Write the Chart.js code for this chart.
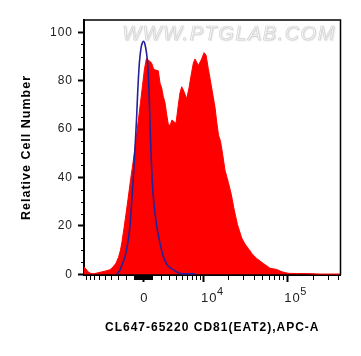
<!DOCTYPE html>
<html><head><meta charset="utf-8">
<script src="https://cdn.jsdelivr.net/npm/chart.js@4.4.1/dist/chart.umd.min.js"></script>
<style>html,body{margin:0;padding:0;background:#fff;}#wrap{width:361px;height:356px;}</style>
</head><body><div id="wrap"><canvas id="c" width="361" height="356"></canvas></div>
<script>
// Display channels (0..256 across the plot, biexponential display)
const redChannels = [0,2,4,7,10,14,18,22,26,29,32,34.5,36.5,38,40,42,44,46.7,49,51.5,54.3,56.5,58.5,60.5,62.5,64.5,67.5,69.5,71.5,74.3,76,77.7,79.3,81,82.7,84.3,86,88,90,92,94.3,96,97.7,99.3,102.7,105,107,109.3,111,114.3,117.7,120,122,124.3,127.7,131,132.7,134.5,136.5,138.5,141,144.3,147.3,150,153.5,157.7,161,164.3,168,172.7,179.3,186,192.7,198,204,212.7,222.7,236,256.5];
const redCounts   = [3.0,2.2,1.0,0.3,0.2,0.6,1.0,1.4,1.9,3.0,4.6,7,10,13.5,19,25,31,39.5,46,54,63.5,71,78,85,89.2,88.5,87.4,85,84.4,84.1,79,77,73.4,71,66,62,61.5,63.8,63,62.4,70,75,77.5,76.2,72.5,77,82,87.2,89,86.3,89,91.6,90.6,85,77,69,63,57.5,55,50,43,38,33,27,20.5,15,12.5,10.7,8.5,6.5,4.5,2.5,2,1.0,0.4,0.3,0.3,0.1,0.1];
const blueChannels = [32.7,34.5,36,38.5,41,44.3,46,47.7,49.3,51,52.5,53.5,55.3,57,58.3,59.5,61,62.5,64,65.3,66.2,67.2,68.3,70,72.7,75.3,79.3,83,89.3,94,97.7,111];
const blueCounts   = [0,0.8,1.8,4.5,7.3,14.2,20,30,40,52,63.8,73.5,87,93.5,95.6,96.3,95,91.5,85,72,60,48,38,29,20,14.2,7.3,4,1.8,0.7,0.2,0.2];

const xTickValues = [0, 10000, 100000];
const xTickLabels = ['0', '10', '10'];
const xTickExponents = ['', '4', '5'];
const yTickValues = [0, 20, 40, 60, 80, 100];
const yMinorValues = [5,10,15,25,30,35,45,50,55,65,70,75,85,90,95];
const xMinorMultipliers = [1,2,3,4,5,6,7,8,9];
const xMinorDecades = [100, 1000];          // mirrored negative and positive
const xMinorPosDecades = [10000, 100000];    // positive only
const xTitle = 'CL647-65220 CD81(EAT2),APC-A';
const yTitle = 'Relative Cell Number';
const watermark = 'WWW.PTGLAB.COM';

const CH_ZERO = 59.3, CH_PER_DECADE = 84.76, COFACTOR = 4000;
function toChannel(v){ return CH_ZERO + CH_PER_DECADE * Math.asinh(v / COFACTOR) / Math.LN10; }

const xMinorValues = [];
xMinorDecades.forEach(d => xMinorMultipliers.forEach(m => { xMinorValues.push(m*d); xMinorValues.push(-m*d); }));
xMinorPosDecades.forEach(d => xMinorMultipliers.forEach(m => { if (m > 1) xMinorValues.push(m*d); }));

const FONT = "'Liberation Sans', Arial, Helvetica, sans-serif";

const decor = {
  id: 'decor',
  beforeDraw(chart){ chart.ctx.letterSpacing = '1px'; },
  beforeDatasetsDraw(chart){
    const ctx = chart.ctx;
    ctx.save();
    ctx.letterSpacing = '1.5px';
    ctx.font = "italic 20px " + FONT;
    ctx.textAlign = 'center'; ctx.textBaseline = 'middle';
    ctx.shadowColor = 'rgba(0,0,0,0.15)'; ctx.shadowBlur = 1.5; ctx.shadowOffsetX = 1; ctx.shadowOffsetY = 1;
    ctx.fillStyle = '#f7f7f7';
    ctx.fillText(watermark, 229, 34);
    ctx.shadowColor = 'transparent';
    ctx.strokeStyle = '#d2d2d2'; ctx.lineWidth = 0.7;
    ctx.strokeText(watermark, 229, 34);
    ctx.restore();
  },
  afterDraw(chart){
    const ctx = chart.ctx, a = chart.chartArea, xs = chart.scales.x, ys = chart.scales.y;
    ctx.save();
    ctx.letterSpacing = '0px';
    ctx.strokeStyle = '#000';
    ctx.lineWidth = 1.5;
    ctx.beginPath();
    ctx.moveTo(a.left, a.top); ctx.lineTo(a.right, a.top); ctx.lineTo(a.right, a.bottom);
    ctx.stroke();
    ctx.lineWidth = 1;
    ctx.beginPath();
    xMinorValues.forEach(v => {
      const px = Math.round(xs.getPixelForValue(toChannel(v))) + 0.5;
      if (px < a.left || px > a.right) return;
      ctx.moveTo(px, a.bottom); ctx.lineTo(px, a.bottom + 5);
    });
    yMinorValues.forEach(v => {
      const py = Math.round(ys.getPixelForValue(v)) + 0.5;
      ctx.moveTo(a.left - 3, py); ctx.lineTo(a.left, py);
    });
    ctx.stroke();
    ctx.letterSpacing = '1px';
    ctx.font = "13px " + FONT;
    const baseW = ctx.measureText('10').width;
    ctx.font = "11px " + FONT;
    ctx.fillStyle = '#222';
    ctx.textAlign = 'left'; ctx.textBaseline = 'alphabetic';
    xTickValues.forEach((v, i) => {
      if (!xTickExponents[i]) return;
      const px = xs.getPixelForValue(toChannel(v)) - 3 + baseW - 0.5;
      ctx.fillText(xTickExponents[i], px, 294.5);
    });
    ctx.restore();
  }
};

new Chart(document.getElementById('c'), {
  type: 'line',
  data: {
    datasets: [
      { label: 'CD81', order: 2, data: redChannels.map((c, i) => ({x: c, y: redCounts[i]})),
        borderColor: '#ff0000', backgroundColor: '#ff0000', borderWidth: 1, fill: 'origin',
        pointRadius: 0, tension: 0 },
      { label: 'Isotype', order: 1, data: blueChannels.map((c, i) => ({x: c, y: blueCounts[i]})),
        borderColor: '#22229a', borderWidth: 1.6, fill: false, pointRadius: 0,
        cubicInterpolationMode: 'monotone' }
    ]
  },
  options: {
    responsive: false, animation: false,
    layout: { padding: { top: 20, right: 20.5, left: 0, bottom: 0 } },
    plugins: { legend: { display: false }, tooltip: { enabled: false } },
    scales: {
      x: {
        type: 'linear', min: 0, max: 256.5,
        afterBuildTicks: s => { s.ticks = xTickValues.map(v => ({ value: toChannel(v) })); },
        afterFit: s => { s.height = 81; },
        grid: { drawOnChartArea: false, drawTicks: true, tickLength: 7, tickWidth: 2, tickColor: '#000' },
        border: { display: true, color: '#000', width: 2 },
        ticks: { callback: (v, i) => xTickLabels[i], autoSkip: false, maxRotation: 0, minRotation: 0,
                 align: 'start', labelOffset: -3, padding: 9, color: '#222', font: { family: FONT, size: 13 } },
        title: { display: true, text: xTitle, color: '#000', font: { family: FONT, size: 12, weight: 'bold' },
                 padding: { top: 0, bottom: 20.8 } }
      },
      y: {
        min: -0.3, max: 105.1,
        afterBuildTicks: s => { s.ticks = yTickValues.map(v => ({ value: v })); },
        afterFit: s => { s.width = 84; },
        grid: { drawOnChartArea: false, drawTicks: true, tickLength: 6, tickWidth: 2, tickColor: '#000' },
        border: { display: true, color: '#000', width: 2 },
        ticks: { callback: (v, i) => String(yTickValues[i]), autoSkip: false, padding: 5, color: '#222',
                 font: { family: FONT, size: 12 } },
        title: { display: true, text: yTitle, color: '#000', font: { family: FONT, size: 12.5, weight: 'bold' },
                 padding: { top: 19.5, bottom: 0 } }
      }
    }
  },
  plugins: [decor]
});
</script></body></html>
